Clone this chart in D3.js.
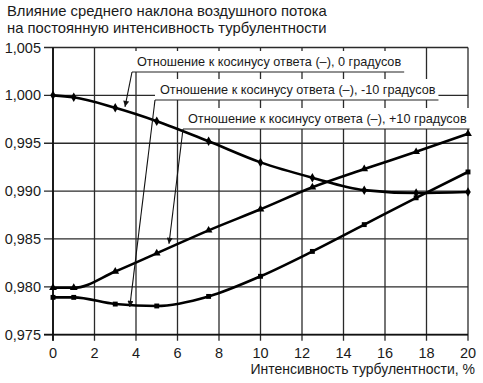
<!DOCTYPE html>
<html><head><meta charset="utf-8">
<script src="https://cdn.jsdelivr.net/npm/d3@7"></script>
<style>
html,body{margin:0;padding:0;background:#fff;}
text{font-family:"Liberation Sans",Arial,Helvetica,sans-serif;fill:#1a1a1a;}
</style></head>
<body><svg id="c" width="483" height="383"></svg>
<script>
// ---- data ----
const xValues = [0, 1, 3, 5, 7.5, 10, 12.5, 15, 17.5, 20];
const ratio0deg = [1.0000, 0.9998, 0.9987, 0.9973, 0.9952, 0.9930, 0.9914, 0.9901, 0.9898, 0.9899];
const ratioMinus10deg = [0.9789, 0.9789, 0.9782, 0.9780, 0.9790, 0.9811, 0.9837, 0.9865, 0.9893, 0.9920];
const ratioPlus10deg = [0.9799, 0.9799, 0.9816, 0.9835, 0.9859, 0.9881, 0.9904, 0.9923, 0.9941, 0.9960];
const xTicks = [0, 2, 4, 6, 8, 10, 12, 14, 16, 18, 20];
const yTicks = [0.975, 0.980, 0.985, 0.990, 0.995, 1.000, 1.005];
const titleLines = ["Влияние среднего наклона воздушного потока", "на постоянную интенсивность турбулентности"];
const xTitle = "Интенсивность турбулентности, %";
const seriesLabels = ["Отношение к косинусу ответа (–), 0 градусов",
                      "Отношение к косинусу ответа (–), -10 градусов",
                      "Отношение к косинусу ответа (–), +10 градусов"];
// arrow targets (data coordinates) for each label
const arrowTargetX = [3.47, 3.70, 5.59];
const arrowTargetY = [0.9988, 0.9779, 0.9845];

// ---- layout ----
const svg = d3.select("#c");
const L = 53, R = 468, T = 47.5, B = 334.7;
const x = d3.scaleLinear().domain([0, 20]).range([L, R]);
const y = d3.scaleLinear().domain([0.975, 1.005]).range([B, T]);
const gridColor = "#2a2a2a";

// title
svg.selectAll("text.title").data(titleLines).join("text")
  .attr("class", "title").attr("x", 7).attr("y", (d, i) => 16 + i * 16.5)
  .style("font-size", "14.8px").text(d => d);

// grid
svg.append("g").selectAll("line").data(xTicks).join("line")
  .attr("x1", d => x(d)).attr("x2", d => x(d)).attr("y1", T).attr("y2", B + 6)
  .attr("stroke", gridColor).attr("stroke-width", 1.3);
svg.append("g").selectAll("line").data(yTicks).join("line")
  .attr("x1", L - 9).attr("x2", R).attr("y1", d => y(d)).attr("y2", d => y(d))
  .attr("stroke", gridColor).attr("stroke-width", 1.3);
svg.append("line").attr("x1", L).attr("x2", L).attr("y1", T).attr("y2", B + 6).attr("stroke", "#111").attr("stroke-width", 1.8);
svg.append("line").attr("x1", L - 9).attr("x2", R).attr("y1", B).attr("y2", B).attr("stroke", "#111").attr("stroke-width", 1.8);

// tick labels
const fmt = d => d3.format(".3f")(d).replace(".", ",");
svg.selectAll("text.yt").data(yTicks).join("text").attr("class", "yt")
  .attr("x", 41).attr("y", d => y(d) + 5).attr("text-anchor", "end")
  .style("font-size", "14.5px").text(fmt);
svg.selectAll("text.xt").data(xTicks).join("text").attr("class", "xt")
  .attr("x", d => x(d)).attr("y", 358).attr("text-anchor", "middle")
  .style("font-size", "14.5px").text(d => d);
svg.append("text").attr("x", 475).attr("y", 374).attr("text-anchor", "end")
  .style("font-size", "14px").text(xTitle);

// labels with white boxes and underlines
const labelLeft = [132, 155, 183];
const labelUnder = [72, 100, 129];
const labelTextX = [137, 160, 188];
const defs = svg.append("defs");
defs.append("marker").attr("id", "arr").attr("viewBox", "0 0 10 10").attr("refX", 10).attr("refY", 5)
  .attr("markerWidth", 9).attr("markerHeight", 6).attr("markerUnits", "userSpaceOnUse").attr("orient", "auto")
  .append("path").attr("d", "M0,0L10,5L0,10Z").attr("fill", "#111");
const lblG = svg.append("g");
seriesLabels.forEach((s, i) => {
  const g = lblG.append("g");
  const rect = g.append("rect");
  const t = g.append("text").attr("x", labelTextX[i]).attr("y", labelUnder[i] - 6)
    .style("font-size", "12.7px").text(s);
  const w = t.node().getComputedTextLength();
  const right = labelTextX[i] + w + 3;
  rect.attr("x", labelLeft[i]).attr("y", labelUnder[i] - 21).attr("width", right - labelLeft[i]).attr("height", 21).attr("fill", "#fff");
  g.append("line").attr("x1", labelLeft[i]).attr("x2", right).attr("y1", labelUnder[i]).attr("y2", labelUnder[i])
    .attr("stroke", "#222").attr("stroke-width", 1.1);
});

// curves
const series = [
  {v: ratio0deg, m: "diamond"},
  {v: ratioMinus10deg, m: "square"},
  {v: ratioPlus10deg, m: "triangle"}
];
const line = d3.line().x(d => x(d[0])).y(d => y(d[1])).curve(d3.curveMonotoneX);
series.forEach(s => {
  const pts = xValues.map((xv, i) => [xv, s.v[i]]);
  svg.append("path").attr("d", line(pts)).attr("fill", "none").attr("stroke", "#000").attr("stroke-width", 2.6);
  const sym = s.m === "diamond" ? d3.symbolDiamond : s.m === "square" ? d3.symbolSquare : d3.symbolTriangle;
  const size = s.m === "diamond" ? 26 : s.m === "square" ? 24 : 26;
  svg.append("g").selectAll("path").data(pts).join("path")
    .attr("transform", d => `translate(${x(d[0])},${y(d[1])})`)
    .attr("d", d3.symbol().type(sym).size(size)).attr("fill", "#000");
});

// leaders
seriesLabels.forEach((s, i) => {
  svg.append("line").attr("x1", labelLeft[i]).attr("y1", labelUnder[i])
    .attr("x2", x(arrowTargetX[i])).attr("y2", y(arrowTargetY[i]))
    .attr("stroke", "#111").attr("stroke-width", 1.1).attr("marker-end", "url(#arr)");
});
</script></body></html>
